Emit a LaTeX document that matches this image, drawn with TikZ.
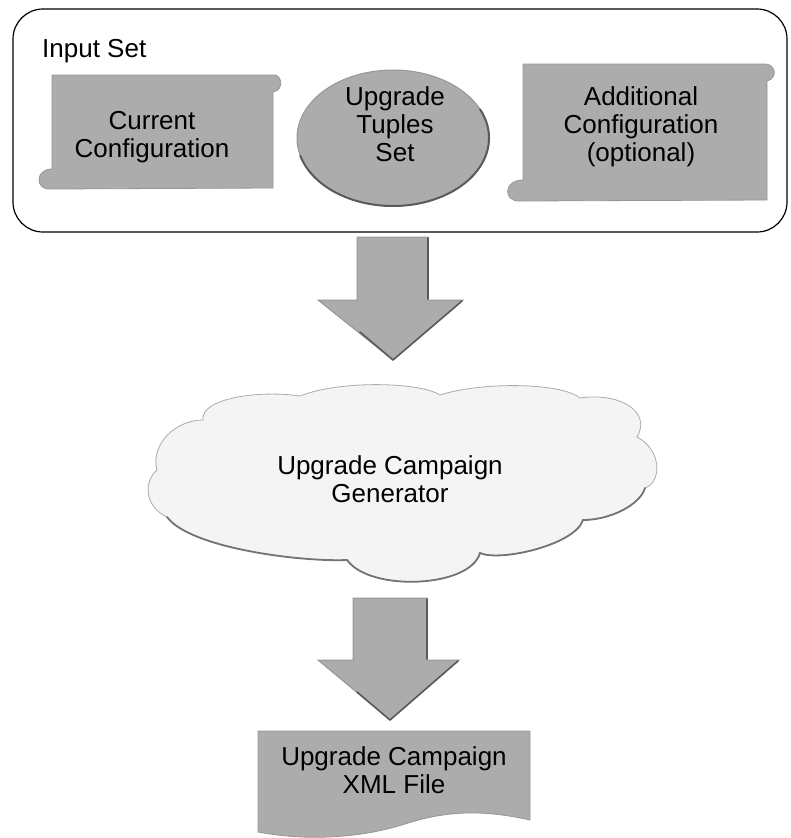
\documentclass[tikz,border=0pt]{standalone}
\usepackage{fontspec}
\setmainfont{Liberation Sans}
\usetikzlibrary{shapes.geometric}
\definecolor{boxgray}{RGB}{172,172,172}
\definecolor{edgegray}{RGB}{90,90,90}
\definecolor{softedge}{RGB}{150,150,150}
\definecolor{cloudfill}{RGB}{244,244,244}
\definecolor{cloudedge}{RGB}{115,115,115}
\begin{document}
\begin{tikzpicture}[x=1pt,y=-1pt,
  txt/.style={font=\fontsize{26}{28}\selectfont, align=center, inner sep=0pt, text=black},
  scrollbox/.style={fill=boxgray, draw=softedge, line width=0.8pt},
  blockarrow/.style={fill=boxgray, draw=softedge, line width=1pt, line join=miter},
  shadeedge/.style={draw=edgegray, line width=1.6pt, line cap=round, line join=round},
  frame/.style={draw=black, line width=1.2pt, rounded corners=30pt}
]
\useasboundingbox (0,0) rectangle (790,838);

% input set frame
\draw[frame] (13,9) rectangle (787,232);
\node[txt, anchor=base west] (title) at (42,57) {Input Set};

% current configuration scroll
\draw[scrollbox] (52,75) -- (272,75) .. controls (282,73) and (285,90) .. (273,92)
  -- (273,188) -- (50,189) .. controls (35,190) and (35,169) .. (52,169) -- cycle;
\node[txt] (cur) at (152,137) {Current\\Configuration};

% upgrade tuples ellipse, darker rim on the lower right
\node[ellipse, minimum width=192pt, minimum height=136pt, fill=boxgray,
      draw=softedge, line width=1pt] (tup) at (393,138) {};
\draw[shadeedge, line width=2pt] (393,138) ++(-25:96 and 68)
  arc[start angle=-25, end angle=165, x radius=96, y radius=68];
\node[txt] (tuptext) at (395,124) {Upgrade\\Tuples\\Set};

% additional configuration scroll
\draw[scrollbox] (523,64) -- (764,64) .. controls (775,63) and (779,78) .. (767,81)
  -- (767,200) -- (520,201) .. controls (503,202) and (503,180) .. (523,180) -- cycle;
\node[txt] (add) at (641,127) {Additional\\Configuration\\(optional)};

% first block arrow
\draw[blockarrow] (357,237) -- (428,237) -- (428,300) -- (463,300)
  -- (393,360) -- (318,300) -- (357,300) -- cycle;
\draw[shadeedge] (428,238) -- (428,299) (462,301) -- (393,360) -- (360,332);

% generator cloud
\draw[fill=cloudfill, draw=cloudfill!70!black, line width=0.8pt]
  (157,470) .. controls (150,445) and (175,420) .. (203,420)
  .. controls (200,398) and (260,390) .. (300,396)
  .. controls (340,380) and (420,382) .. (440,395)
  .. controls (480,382) and (560,382) .. (580,398)
  .. controls (620,392) and (652,412) .. (637,437)
  .. controls (662,450) and (662,482) .. (645,488)
  .. controls (640,505) and (610,520) .. (583,520)
  .. controls (575,545) and (500,562) .. (480,553)
  .. controls (470,588) and (370,592) .. (347,560)
  .. controls (300,562) and (190,548) .. (167,517)
  .. controls (145,507) and (143,482) .. (157,470) -- cycle;
\draw[cloudedge, line width=1.8pt, line cap=round]
  (645,488) .. controls (640,505) and (610,520) .. (583,520)
  .. controls (575,545) and (500,562) .. (480,553)
  .. controls (470,588) and (370,592) .. (347,560)
  .. controls (300,562) and (190,548) .. (167,517);
\node[txt] (gen) at (390,479) {Upgrade Campaign\\Generator};

% second block arrow
\draw[blockarrow] (353,598) -- (427,598) -- (427,660) -- (459,660)
  -- (390,720) -- (318,660) -- (353,660) -- cycle;
\draw[shadeedge] (427,599) -- (427,659) (458,661) -- (390,720) -- (357,692);

% output document
\draw[scrollbox] (258,731) -- (530,731) -- (530,820)
  .. controls (485,810) and (448,810) .. (405,824)
  .. controls (355,840) and (300,840) .. (258,832) -- cycle;
\node[txt] (xml) at (394,770) {Upgrade Campaign\\XML File};
\end{tikzpicture}
\end{document}
